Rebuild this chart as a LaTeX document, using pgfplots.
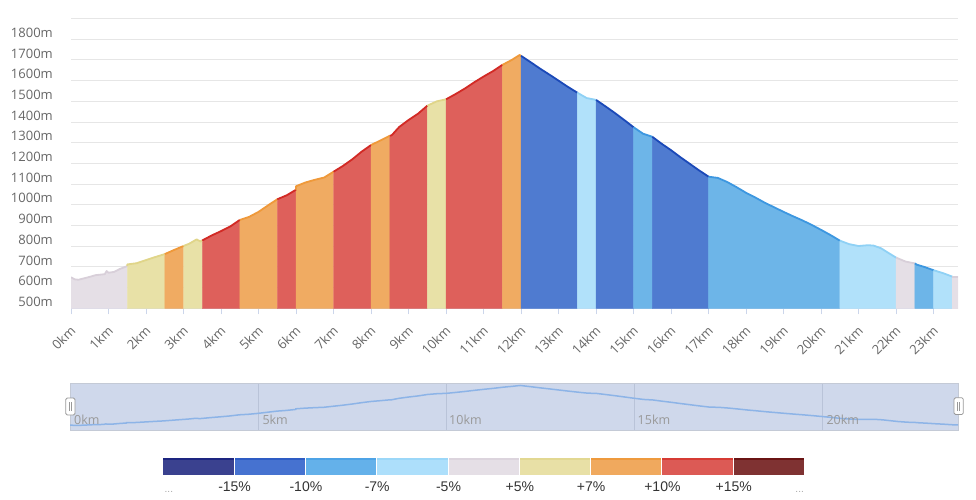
\documentclass[border=0pt]{standalone}
\usepackage{pgfplots}
\pgfplotsset{compat=1.18}
\usepackage{pgfplotstable}
\usepackage{fontspec}
\setmainfont{Open Sans}
\newfontfamily\legfont{Liberation Sans}

\definecolor{tickgray}{HTML}{666666}
\definecolor{gridcol}{HTML}{E6E6E6}
\definecolor{axiscol}{HTML}{CCD6EB}
% area fills
\definecolor{fGray}{HTML}{E5DFE6}
\definecolor{fYel}{HTML}{E8E1A7}
\definecolor{fOra}{HTML}{F0AB62}
\definecolor{fRed}{HTML}{DE605B}
\definecolor{fDB}{HTML}{4F7BD0}
\definecolor{fMB}{HTML}{6DB5E8}
\definecolor{fLB}{HTML}{B1E1FA}
% top lines
\definecolor{lGray}{HTML}{D8CFD9}
\definecolor{lYel}{HTML}{E0D589}
\definecolor{lOra}{HTML}{EF993A}
\definecolor{lRed}{HTML}{D22A25}
\definecolor{lDB}{HTML}{1B49B8}
\definecolor{lMB}{HTML}{3D97E0}
\definecolor{lLB}{HTML}{8FD1F5}
% slider
\definecolor{slfill}{HTML}{CFD8EB}
\definecolor{slborder}{HTML}{C4CAD6}
\definecolor{slgrid}{HTML}{B9C3D8}
\definecolor{slline}{HTML}{8DB4E7}
\definecolor{sltext}{HTML}{999999}
% legend
\definecolor{c1}{HTML}{3A418F}\definecolor{s1}{HTML}{1D2580}
\definecolor{c2}{HTML}{4672D0}\definecolor{s2}{HTML}{2E5CC4}
\definecolor{c3}{HTML}{64B1EA}\definecolor{s3}{HTML}{4EA3E6}
\definecolor{c4}{HTML}{ADDFFB}\definecolor{s4}{HTML}{9BD7F8}
\definecolor{c5}{HTML}{E5DFE6}\definecolor{s5}{HTML}{DCD4DD}
\definecolor{c6}{HTML}{E8E0A6}\definecolor{s6}{HTML}{E2D892}
\definecolor{c7}{HTML}{F0A95E}\definecolor{s7}{HTML}{EE9A3D}
\definecolor{c8}{HTML}{DC5A55}\definecolor{s8}{HTML}{D63B34}
\definecolor{c9}{HTML}{7F3232}\definecolor{s9}{HTML}{6A1414}
\definecolor{legtext}{HTML}{333333}

\pgfplotstableread{
x y
0.00 650
0.10 640
0.20 638
0.35 645
0.50 652
0.65 660
0.80 663
0.90 665
0.95 680
1.00 672
1.15 676
1.30 690
1.50 704
1.501 712
1.75 718
2.00 733
2.25 748
2.50 762
2.75 782
3.00 801
3.15 812
3.35 833
3.45 823
3.50 828
3.75 852
4.00 873
4.25 896
4.50 927
4.75 942
5.00 966
5.25 997
5.50 1027
5.75 1046
6.00 1073
6.001 1090
6.25 1108
6.50 1121
6.75 1132
7.00 1160
7.25 1188
7.50 1220
7.75 1257
8.00 1289
8.25 1311
8.50 1334
8.55 1336
8.75 1376
9.00 1410
9.25 1440
9.50 1479
9.75 1500
10.00 1510
10.25 1535
10.50 1562
10.75 1592
11.00 1620
11.25 1646
11.50 1676
11.75 1700
11.96 1724
12.00 1720
12.25 1690
12.50 1659
12.75 1630
13.00 1600
13.25 1570
13.50 1542
13.75 1516
14.00 1507
14.25 1476
14.50 1444
14.75 1410
15.00 1375
15.25 1344
15.50 1329
15.75 1295
16.00 1264
16.25 1230
16.50 1198
16.75 1166
17.00 1136
17.25 1130
17.50 1110
17.75 1085
18.00 1058
18.25 1035
18.50 1010
18.75 988
19.00 966
19.25 945
19.50 925
19.75 903
20.00 879
20.25 854
20.50 827
20.75 810
21.00 801
21.25 805
21.40 803
21.60 790
21.80 767
22.00 745
22.25 726
22.50 717
22.55 711
22.75 700
23.00 684
23.25 670
23.50 653
23.65 653
}\profile

\newcommand{\segfill}[4]{\addplot[draw=#3, line width=0.4pt, fill=#3, forget plot, restrict x to domain=#1:#2] table {\profile} \closedcycle;}
\newcommand{\segline}[4]{\addplot[draw=#4, line width=1.8pt, line join=round, forget plot, restrict x to domain=#1:#2] table {\profile};}
\newcommand{\segments}[1]{%
#1{-0.0005}{1.5005}{fGray}{lGray}
#1{1.4995}{2.5005}{fYel}{lYel}
#1{2.4995}{3.0005}{fOra}{lOra}
#1{2.9995}{3.5005}{fYel}{lYel}
#1{3.4995}{4.5005}{fRed}{lRed}
#1{4.4995}{5.5005}{fOra}{lOra}
#1{5.4995}{6.0005}{fRed}{lRed}
#1{5.9995}{7.0005}{fOra}{lOra}
#1{6.9995}{8.0005}{fRed}{lRed}
#1{7.9995}{8.5005}{fOra}{lOra}
#1{8.4995}{9.5005}{fRed}{lRed}
#1{9.4995}{10.0005}{fYel}{lYel}
#1{9.9995}{11.5005}{fRed}{lRed}
#1{11.4995}{12.0005}{fOra}{lOra}
#1{11.9995}{13.5005}{fDB}{lDB}
#1{13.4995}{14.0005}{fLB}{lLB}
#1{13.9995}{15.0005}{fDB}{lDB}
#1{14.9995}{15.5005}{fMB}{lMB}
#1{15.4995}{17.0005}{fDB}{lDB}
#1{16.9995}{20.5005}{fMB}{lMB}
#1{20.4995}{22.0005}{fLB}{lLB}
#1{21.9995}{22.5005}{fGray}{lGray}
#1{22.4995}{23.0005}{fMB}{lMB}
#1{22.9995}{23.5005}{fLB}{lLB}
#1{23.4995}{23.7}{fGray}{lGray}
}

\begin{document}
\begin{tikzpicture}
\begin{axis}[
  at={(71pt,190.7pt)}, anchor=south west,
  width=887pt, height=289.7pt, scale only axis,
  xmin=0, xmax=23.65, ymin=500, ymax=1900,
  axis x line*=bottom, axis y line*=left,
  x axis line style={draw=axiscol, line width=1pt, -},
  y axis line style={draw=none},
  xtick={0,1,...,23},
  xticklabels={0km,1km,2km,3km,4km,5km,6km,7km,8km,9km,10km,11km,12km,13km,14km,15km,16km,17km,18km,19km,20km,21km,22km,23km},
  ytick={500,600,...,1900},
  yticklabels={500m,600m,700m,800m,900m,1000m,1100m,1200m,1300m,1400m,1500m,1600m,1700m,1800m,{}},
  ymajorgrids, grid style={draw=gridcol, line width=1pt},
  tick align=outside, major tick length=6pt,
  xtick style={draw=axiscol, line width=1pt},
  ytick style={draw=none},
  yticklabel style={font=\fontsize{13}{15}\selectfont, text=tickgray, anchor=east, inner sep=0pt, xshift=-12pt, yshift=6.5pt},
  xticklabel style={font=\fontsize{13}{15}\selectfont, text=tickgray, inner sep=0pt, xshift=2pt, yshift=-14pt, rotate=45, anchor=east},
]
\segments\segfill
\segments\segline
\end{axis}

% data zoom slider
\begin{axis}[
  at={(70pt,69pt)}, anchor=south west,
  width=888pt, height=46.7pt, scale only axis,
  xmin=0, xmax=23.6, ymin=514, ymax=1783,
  xtick={5,10,15,20}, xticklabels={}, ytick=\empty,
  xmajorgrids, grid style={draw=slgrid, line width=0.8pt},
  major tick length=0pt,
  axis line style={draw=slborder, line width=0.8pt},
  axis background/.style={fill=slfill},
]
\addplot[draw=slline, line width=1.5pt] table {\profile};
\end{axis}

\begin{scope}[x=1pt,y=1pt]
\foreach \xx/\lab in {70/0km,258.3/5km,445/10km,633.5/15km,822.3/20km}{
  \node[anchor=base west, inner sep=0pt, text=sltext, font=\fontsize{12.5}{14}\selectfont] at (\xx+4,74.5) {\lab};
}
% handles
\draw[draw=black!40, fill=white, rounded corners=1.5pt, line width=0.8pt] (65.7,84) rectangle (75,101);
\draw[draw=black!40, line width=0.7pt] (69.3,88) -- (69.3,97) (71.5,88) -- (71.5,97);
\draw[draw=black!40, fill=white, rounded corners=1.5pt, line width=0.8pt] (954,84.5) rectangle (963.3,101.3);
\draw[draw=black!40, line width=0.7pt] (957.6,88.5) -- (957.6,97.5) (959.8,88.5) -- (959.8,97.5);

% legend
\foreach \i/\c/\s in {0/c1/s1,1/c2/s2,2/c3/s3,3/c4/s4,4/c5/s5,5/c6/s6,6/c7/s7,7/c8/s8,8/c9/s9}{
  \fill[\c] (163.3+\i*71.3,24) rectangle (163.3+\i*71.3+70.3,40.7);
  \fill[\s] (163.3+\i*71.3,39.2) rectangle (163.3+\i*71.3+70.3,40.7);
}
\foreach \i/\lab in {1/-15\%,2/-10\%,3/-7\%,4/-5\%,5/+5\%,6/+7\%,7/+10\%,8/+15\%}{
  \node[anchor=base, inner sep=0pt, text=legtext, font=\legfont\fontsize{14}{16}\selectfont] at (163.3+\i*71.3,7.5) {\lab};
}
\node[anchor=base west, inner sep=0pt, text=black!35, font=\legfont\fontsize{10}{12}\selectfont] at (164.5,7) {...};
\node[anchor=base east, inner sep=0pt, text=black!35, font=\legfont\fontsize{10}{12}\selectfont] at (804,7) {...};

\pgfresetboundingbox
\useasboundingbox (0,0) rectangle (976,499);
\end{scope}
\end{tikzpicture}
\end{document}
